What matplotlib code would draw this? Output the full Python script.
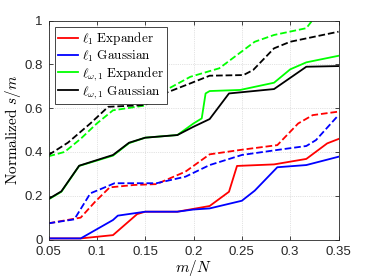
import matplotlib
matplotlib.use('Agg')
import matplotlib.pyplot as plt

plt.rcParams['mathtext.fontset'] = 'cm'
plt.rcParams['font.family'] = 'Liberation Sans'

# breakpoints (m/N, normalized s/m)
x_l1_exp = [0.05, 0.0833, 0.1167, 0.1417, 0.15, 0.1833, 0.2, 0.2167, 0.2367, 0.245, 0.2833, 0.3167, 0.3383, 0.35]
y_l1_exp = [0.005, 0.005, 0.02, 0.116, 0.127, 0.127, 0.14, 0.153, 0.218, 0.336, 0.343, 0.368, 0.439, 0.459]

x_l1_gau = [0.05, 0.0833, 0.1167, 0.1217, 0.15, 0.1833, 0.2, 0.2167, 0.25, 0.2633, 0.2867, 0.3167, 0.35]
y_l1_gau = [0.005, 0.005, 0.089, 0.109, 0.127, 0.127, 0.137, 0.142, 0.177, 0.223, 0.33, 0.34, 0.378]

x_lw_exp = [0.05, 0.0633, 0.0817, 0.1167, 0.1333, 0.15, 0.1833, 0.2, 0.2085, 0.2125, 0.2167, 0.2483, 0.2833, 0.3, 0.3167, 0.35]
y_lw_exp = [0.183, 0.218, 0.336, 0.383, 0.44, 0.465, 0.477, 0.53, 0.553, 0.667, 0.678, 0.683, 0.716, 0.777, 0.809, 0.839]

x_lw_gau = [0.05, 0.0633, 0.0817, 0.1167, 0.1333, 0.15, 0.1833, 0.2, 0.2167, 0.2367, 0.2833, 0.3167, 0.35]
y_lw_gau = [0.185, 0.22, 0.337, 0.386, 0.442, 0.465, 0.477, 0.515, 0.55, 0.667, 0.687, 0.789, 0.792]

# dashed curves
xd_l1_exp = [0.05, 0.0833, 0.0983, 0.1133, 0.1383, 0.1617, 0.1917, 0.2167, 0.2483, 0.2867, 0.3083, 0.3233, 0.35]
yd_l1_exp = [0.074, 0.10, 0.173, 0.238, 0.249, 0.253, 0.31, 0.389, 0.409, 0.431, 0.53, 0.568, 0.584]

xd_l1_gau = [0.05, 0.0767, 0.0933, 0.1033, 0.1183, 0.1617, 0.1917, 0.2167, 0.25, 0.2867, 0.3167, 0.3267, 0.35]
yd_l1_gau = [0.074, 0.092, 0.211, 0.229, 0.257, 0.257, 0.287, 0.34, 0.386, 0.409, 0.427, 0.454, 0.568]

xd_lw_exp = [0.05, 0.0667, 0.0833, 0.1, 0.1167, 0.15, 0.1683, 0.1967, 0.2267, 0.2633, 0.2833, 0.3167, 0.3333]
yd_lw_exp = [0.38, 0.40, 0.46, 0.53, 0.59, 0.612, 0.675, 0.743, 0.782, 0.903, 0.934, 0.965, 1.06]

xd_lw_gau = [0.05, 0.07, 0.0933, 0.1117, 0.15, 0.17, 0.1967, 0.2167, 0.2517, 0.2617, 0.2833, 0.3, 0.35]
yd_lw_gau = [0.386, 0.442, 0.53, 0.606, 0.614, 0.667, 0.713, 0.748, 0.751, 0.774, 0.873, 0.903, 0.949]

x_ticks = [0.05, 0.1, 0.15, 0.2, 0.25, 0.3, 0.35]
x_ticklabels = ['0.05', '0.1', '0.15', '0.2', '0.25', '0.3', '0.35']
y_ticks = [0, 0.2, 0.4, 0.6, 0.8, 1]
y_ticklabels = ['0', '0.2', '0.4', '0.6', '0.8', '1']

fig = plt.figure(figsize=(3.74, 2.8), dpi=100)
ax = fig.add_axes([0.1297, 0.1446, 0.7754, 0.7821])

lw = 1.3
ax.plot(x_l1_exp, y_l1_exp, color='red', lw=lw, label=r'$\ell_1\ \mathrm{Expander}$')
ax.plot(x_l1_gau, y_l1_gau, color='blue', lw=lw, label=r'$\ell_1\ \mathrm{Gaussian}$')
ax.plot(x_lw_exp, y_lw_exp, color=(0, 1, 0), lw=lw, label=r'$\ell_{\omega,1}\ \mathrm{Expander}$')
ax.plot(x_lw_gau, y_lw_gau, color='black', lw=lw, label=r'$\ell_{\omega,1}\ \mathrm{Gaussian}$')
ax.plot(xd_l1_exp, yd_l1_exp, color='red', lw=lw, ls='--')
ax.plot(xd_l1_gau, yd_l1_gau, color='blue', lw=lw, ls='--')
ax.plot(xd_lw_exp, yd_lw_exp, color=(0, 1, 0), lw=lw, ls='--')
ax.plot(xd_lw_gau, yd_lw_gau, color='black', lw=lw, ls='--')

ax.set_xlim(0.05, 0.35)
ax.set_ylim(0, 1)
ax.set_xticks(x_ticks)
ax.set_xticklabels(x_ticklabels)
ax.set_yticks(y_ticks)
ax.set_yticklabels(y_ticklabels)

axcol = '#262626'
ax.tick_params(direction='in', top=True, right=True, length=3, width=0.6,
               labelsize=9.5, colors=axcol)
ax.tick_params(axis='x', pad=5)
ax.tick_params(axis='y', pad=4)
for s in ax.spines.values():
    s.set_color(axcol)
    s.set_linewidth(0.6)
ax.grid(True, ls=':', lw=0.5, color='#c8c8c8')

ax.set_xlabel(r'$m/N$', fontsize=11, labelpad=0)
ax.set_ylabel(r'$\mathrm{Normalized}\ s/m$', fontsize=11, labelpad=1)

leg = ax.legend(loc='upper left', bbox_to_anchor=(0.0, 1.0), fontsize=9.5,
                fancybox=False, framealpha=1, edgecolor=axcol,
                handlelength=1.5, handletextpad=0.3, labelspacing=0.1,
                borderpad=0.25, borderaxespad=0.5)
leg.get_frame().set_linewidth(0.6)

fig.savefig('out.png', dpi=100)
